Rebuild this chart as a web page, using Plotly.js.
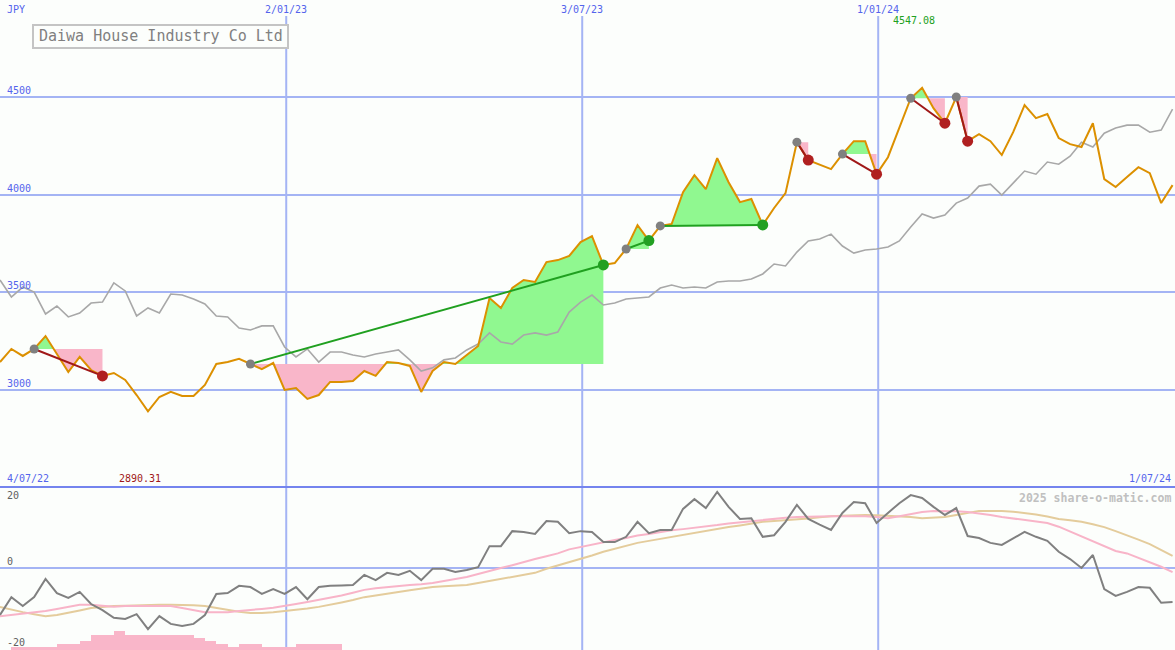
<!DOCTYPE html>
<html>
<head>
<meta charset="utf-8">
<script src="https://cdn.plot.ly/plotly-3.0.1.min.js"></script>
<style>
html,body{margin:0;padding:0;background:#fcfefc;}
#chart{width:1175px;height:650px;}
</style>
</head>
<body>
<div id="chart"></div>
<script>
// ---------- DATA ----------
const companyName = "Daiwa House Industry Co Ltd";
const currency = "JPY";
const firstDate = [2022, 6, 10];          // first weekly observation (UTC y, m0, d)
const rangeEnd = [2024, 6, 1];
const startLabel = "4/07/22";
const endLabel = "1/07/24";
const gridDates = ["2023-01-02", "2023-07-03", "2024-01-01"];
const gridLabels = ["2/01/23", "3/07/23", "1/01/24"];
const priceTicks = [3000, 3500, 4000, 4500];
const lowerTicks = [20, 0, -20];

// weekly close price (JPY)
const price = [3143,3210,3174,3210,3276,3184,3092,3169,3102,3072,
  3087,3051,2974,2890.31,2964,2990,2969,2969,3026,3133,
  3143,3159,3133,3107,3138,3000,3010,2954,2974,3041,
  3041,3046,3097,3072,3143,3138,3123,2990,3097,3143,
  3133,3179,3225,3471,3420,3522,3563,3553,3655,3665,
  3686,3757,3788,3640,3650,3722,3844,3765,3840,3850,
  4013,4100,4028,4187,4064,3962,3978,3845,3932,4008,
  4269,4177,4152,4131,4208,4274,4274,4105,4192,4346,
  4494,4547.08,4443,4366,4500,4274,4310,4274,4203,4320,
  4459,4392,4413,4290,4259,4244,4366,4080,4039,4090,
  4141,4110,3957,4049];

// comparison line (market index, rebased)
const compare = [3563,3476,3527,3501,3389,3430,3374,3394,3445,3450,
  3548,3507,3379,3420,3394,3491,3486,3466,3440,3379,
  3374,3317,3307,3328,3328,3220,3169,3210,3143,3194,
  3194,3179,3169,3184,3194,3205,3154,3097,3113,3154,
  3164,3205,3235,3292,3246,3235,3281,3292,3281,3297,
  3399,3450,3486,3435,3445,3466,3471,3476,3522,3537,
  3522,3527,3522,3553,3558,3558,3568,3594,3645,3635,
  3706,3763,3773,3798,3737,3701,3717,3722,3732,3763,
  3834,3901,3880,3896,3957,3983,4044,4054,3998,4059,
  4121,4105,4167,4156,4197,4269,4244,4315,4341,4356,
  4356,4320,4331,4438];

// lower panel: momentum and its two averages
const momentum = [-11.6,-7.2,-9.4,-7.2,-2.7,-6.2,-7.4,-5.9,-8.9,-10.4,
  -12.3,-12.6,-11.4,-15.1,-11.9,-13.8,-14.3,-13.8,-11.6,-6.4,
  -6.2,-4.4,-4.7,-6.4,-5.2,-6.4,-4.7,-7.7,-4.7,-4.4,
  -4.3,-4.2,-1.7,-3.0,-1.2,-1.7,-0.7,-3.0,-0.2,-0.2,
  -1.0,-0.5,0.2,5.4,5.4,9.1,8.9,8.4,11.6,11.4,
  8.6,9.1,8.9,6.4,6.4,7.7,11.4,8.6,9.4,9.4,
  14.6,17.0,14.8,18.8,15.1,12.1,12.3,7.7,8.1,11.4,
  15.6,12.1,10.7,9.4,13.6,16.3,16.0,11.1,13.6,16.0,
  18.0,17.3,15.1,13.1,14.8,7.9,7.4,6.2,5.7,7.4,
  8.9,7.7,6.7,4.0,2.2,0.0,3.2,-5.2,-6.9,-5.9,
  -4.7,-4.9,-8.6,-8.4];

const avgFast = [-11.9,-11.6,-11.2,-10.9,-10.6,-10.1,-9.6,-9.1,-9.1,-9.4,
  -9.6,-9.4,-9.4,-9.4,-9.4,-9.4,-9.9,-10.4,-10.9,-10.9,
  -10.9,-10.6,-10.4,-10.1,-9.8,-9.4,-8.9,-8.4,-7.9,-7.4,
  -6.8,-6.1,-5.4,-5.0,-4.7,-4.4,-4.2,-4.0,-3.7,-3.2,
  -2.7,-2.2,-1.5,-0.7,0.0,0.7,1.5,2.2,2.9,3.6,
  4.6,5.2,5.8,6.3,6.9,7.4,8.0,8.4,8.9,9.3,
  9.6,9.9,10.3,10.6,11.0,11.3,11.6,11.9,12.1,12.4,
  12.6,12.7,12.8,12.8,12.8,12.8,12.8,12.6,12.3,12.8,
  13.3,13.8,14.1,14.1,14.0,13.8,13.5,13.1,12.6,12.2,
  11.8,11.4,11.1,10.2,9.0,7.7,6.7,5.5,4.2,3.6,
  2.5,1.5,0.3,-1.0];

const avgSlow = [-9.6,-10.3,-10.9,-11.4,-11.9,-11.6,-11.1,-10.5,-9.9,-9.6,
  -9.4,-9.3,-9.2,-9.1,-9.1,-9.1,-9.1,-9.2,-9.4,-9.9,
  -10.4,-10.8,-11.1,-11.1,-10.9,-10.6,-10.4,-10.0,-9.6,-9.1,
  -8.5,-7.9,-7.2,-6.8,-6.3,-5.9,-5.5,-5.1,-4.7,-4.5,
  -4.3,-4.2,-3.7,-3.2,-2.7,-2.2,-1.7,-1.2,-0.2,0.6,
  1.4,2.2,3.1,4.0,4.7,5.5,6.2,6.7,7.2,7.7,
  8.2,8.6,9.1,9.6,10.1,10.5,11.0,11.4,11.6,11.8,
  11.9,12.2,12.5,12.8,12.9,13.0,13.1,13.0,12.9,12.8,
  12.6,12.3,12.4,12.6,13.1,13.6,14.1,14.1,14.1,13.9,
  13.6,13.2,12.7,12.1,11.8,11.4,10.8,10.1,9.1,8.1,
  7.0,5.9,4.5,3.0];

// pink bars at the foot of the lower panel (week index -> height)
const barIndex = [1,2,3,4,5,6,7,8,9,10,11,12,13,14,15,16,17,18,19,20,21,22,23,24,25,26,27,28,29];
const barValue = [0.8,0.8,0.8,0.8,1.5,1.5,2.2,3.7,3.7,4.7,3.7,3.7,3.7,3.7,3.7,3.7,2.9,2.2,1.5,0.8,1.5,1.5,0.8,0.8,0.8,1.5,1.5,1.5,1.5];

// trend signals: [start week index, end week index]
const signals = [[3,9],[22,53],[55,57],[58,67],[70,71],[74,77],[80,83],[84,85]];

// ---------- BUILD ----------
const W = 1175, H = 650;
const DAY = 864e5, WEEK = 7 * DAY;
const t0 = Date.UTC(firstDate[0], firstDate[1], firstDate[2]);
const dates = price.map((_, i) => t0 + i * WEEK);
const xRange = [t0, Date.UTC(rangeEnd[0], rangeEnd[1], rangeEnd[2], 12)];
const splitPx = 487;
const splitFrac = (H - splitPx) / H;

const C = {
  bg: "#fcfefc", grid: "#a4b4f4", sep: "#7484ee", label: "#5464ec",
  orange: "#dc9000", gray: "#a8a8a8", mom: "#808080",
  fast: "#f8b4c8", slow: "#e4cc9c", green: "#90f890", pink: "#f9b6c9",
  upLine: "#20a020", downLine: "#a01818", upDot: "#22a022", downDot: "#b02020", startDot: "#808080"
};

const traces = [];

// fills for each signal
signals.forEach(([s, e]) => {
  const L = price[s];
  const up = [], dn = [];
  for (let i = s; i <= e; i++) {
    const t = dates[i], p = price[i];
    if (i > s) {
      const tp = dates[i - 1], pp = price[i - 1];
      if ((pp - L) * (p - L) < 0) {
        const tc = tp + (t - tp) * (L - pp) / (p - pp);
        up.push([tc, L]); dn.push([tc, L]);
      }
    }
    up.push([t, Math.max(p, L)]);
    dn.push([t, Math.min(p, L)]);
  }
  [[up, C.green], [dn, C.pink]].forEach(([pts, col]) => {
    const xs = pts.map(a => a[0]).concat([dates[e], dates[s]]);
    const ys = pts.map(a => a[1]).concat([L, L]);
    traces.push({x: xs, y: ys, type: "scatter", mode: "lines", fill: "toself",
      fillcolor: col, line: {width: 0, color: col}, hoverinfo: "skip", showlegend: false});
  });
});

// comparison line
traces.push({x: dates, y: compare, type: "scatter", mode: "lines",
  line: {color: C.gray, width: 1.6}, hoverinfo: "skip", showlegend: false});
// price line
traces.push({x: dates, y: price, type: "scatter", mode: "lines",
  line: {color: C.orange, width: 2}, showlegend: false});

// signal connectors and dots
signals.forEach(([s, e]) => {
  const upMove = price[e] > price[s];
  traces.push({x: [dates[s], dates[e]], y: [price[s], price[e]], type: "scatter", mode: "lines",
    line: {color: upMove ? C.upLine : C.downLine, width: 2}, hoverinfo: "skip", showlegend: false});
});
signals.forEach(([s, e]) => {
  const upMove = price[e] > price[s];
  traces.push({x: [dates[s]], y: [price[s]], type: "scatter", mode: "markers",
    marker: {color: C.startDot, size: 9}, showlegend: false});
  traces.push({x: [dates[e]], y: [price[e]], type: "scatter", mode: "markers",
    marker: {color: upMove ? C.upDot : C.downDot, size: 11}, showlegend: false});
});

// lower panel
traces.push({x: barIndex.map(i => dates[i]), y: barValue, base: -20.25, type: "bar",
  yaxis: "y2", width: WEEK, offset: 0, marker: {color: C.pink, line: {width: 0}},
  hoverinfo: "skip", showlegend: false});
traces.push({x: dates, y: avgSlow, yaxis: "y2", type: "scatter", mode: "lines",
  line: {color: C.slow, width: 2}, showlegend: false});
traces.push({x: dates, y: avgFast, yaxis: "y2", type: "scatter", mode: "lines",
  line: {color: C.fast, width: 2}, showlegend: false});
traces.push({x: dates, y: momentum, yaxis: "y2", type: "scatter", mode: "lines",
  line: {color: C.mom, width: 2}, showlegend: false});

// ---------- LAYOUT ----------
const mono = "DejaVu Sans Mono, monospace";
const pyTop = px => 1 - px / H;
const shapes = [];
gridDates.forEach(d => {
  shapes.push({type: "line", xref: "x", yref: "paper", x0: d, x1: d, y0: 0, y1: pyTop(16),
    line: {color: C.grid, width: 2}, layer: "below"});
});
shapes.push({type: "line", xref: "paper", yref: "paper", x0: 0, x1: 1, y0: splitFrac, y1: splitFrac,
  line: {color: C.sep, width: 2}});
shapes.push({type: "rect", xref: "paper", yref: "paper", x0: 33 / W, x1: 288 / W, y0: pyTop(48), y1: pyTop(25),
  line: {color: "#c4c4c4", width: 2}, fillcolor: C.bg});

const ann = [];
const small = (color) => ({family: mono, size: 10, color: color});
gridDates.forEach((d, k) => ann.push({xref: "x", yref: "paper", x: d, y: pyTop(2), yanchor: "top",
  xanchor: "center", text: gridLabels[k], showarrow: false, font: small(C.label)}));
priceTicks.forEach(v => ann.push({xref: "paper", yref: "y", x: 5 / W, y: v, xanchor: "left", yanchor: "bottom",
  text: String(v), showarrow: false, font: small(C.label), yshift: -1}));
ann.push({xref: "paper", yref: "paper", x: 5 / W, y: pyTop(10), xanchor: "left", yanchor: "middle",
  text: currency, showarrow: false, font: small(C.label)});
ann.push({xref: "paper", yref: "paper", x: 5 / W, y: pyTop(486), xanchor: "left", yanchor: "bottom",
  text: startLabel, showarrow: false, font: small(C.label)});
ann.push({xref: "paper", yref: "paper", x: 1173 / W, y: pyTop(486), xanchor: "right", yanchor: "bottom",
  text: endLabel, showarrow: false, font: small(C.label)});
// min / max labels
let iMin = 0, iMax = 0;
price.forEach((p, i) => { if (p < price[iMin]) iMin = i; if (p > price[iMax]) iMax = i; });
ann.push({xref: "x", yref: "paper", x: dates[iMin], y: pyTop(486), xanchor: "center", yanchor: "bottom",
  xshift: -8, text: price[iMin].toFixed(2), showarrow: false, font: small("#a01818")});
ann.push({xref: "x", yref: "paper", x: dates[iMax], y: pyTop(20), xanchor: "center", yanchor: "middle",
  xshift: -8, text: price[iMax].toFixed(2), showarrow: false, font: small("#20a020")});
// lower ticks
ann.push({xref: "paper", yref: "y2", x: 5 / W, y: lowerTicks[0], xanchor: "left", yanchor: "top",
  text: String(lowerTicks[0]), showarrow: false, font: small("#606060"), yshift: -1});
ann.push({xref: "paper", yref: "y2", x: 5 / W, y: lowerTicks[1], xanchor: "left", yanchor: "bottom",
  text: String(lowerTicks[1]), showarrow: false, font: small("#606060"), yshift: -1});
ann.push({xref: "paper", yref: "y2", x: 5 / W, y: lowerTicks[2], xanchor: "left", yanchor: "bottom",
  text: String(lowerTicks[2]), showarrow: false, font: small("#606060"), yshift: -1});
// watermark
ann.push({xref: "paper", yref: "paper", x: 1173 / W, y: pyTop(489), xanchor: "right", yanchor: "top",
  text: "2025 share-o-matic.com", showarrow: false, font: {family: mono, size: 11.5, color: "#c0c0c0", weight: "bold"}});
// title
ann.push({xref: "paper", yref: "paper", x: (33 + 288) / 2 / W, y: pyTop(36.5), xanchor: "center", yanchor: "middle",
  text: companyName, showarrow: false, font: {family: mono, size: 15, color: "#808080"}});

const layout = {
  width: W, height: H,
  margin: {l: 0, r: 0, t: 0, b: 0, pad: 0},
  paper_bgcolor: C.bg, plot_bgcolor: C.bg,
  showlegend: false, bargap: 0, hovermode: false,
  xaxis: {type: "date", range: xRange, showgrid: false, zeroline: false, showticklabels: false,
    ticks: "", showline: false, fixedrange: true},
  yaxis: {domain: [splitFrac, 1], range: [2503, 4997], tickvals: priceTicks, showticklabels: false,
    gridcolor: C.grid, gridwidth: 2, zeroline: false, showline: false, ticks: "", fixedrange: true},
  yaxis2: {domain: [0, splitFrac], range: [-20.25, 20], tickvals: [0], showticklabels: false,
    gridcolor: C.grid, gridwidth: 2, zeroline: false, showline: false, ticks: "", fixedrange: true},
  shapes: shapes, annotations: ann
};

Plotly.newPlot("chart", traces, layout, {displayModeBar: false, staticPlot: true});
</script>
</body>
</html>
